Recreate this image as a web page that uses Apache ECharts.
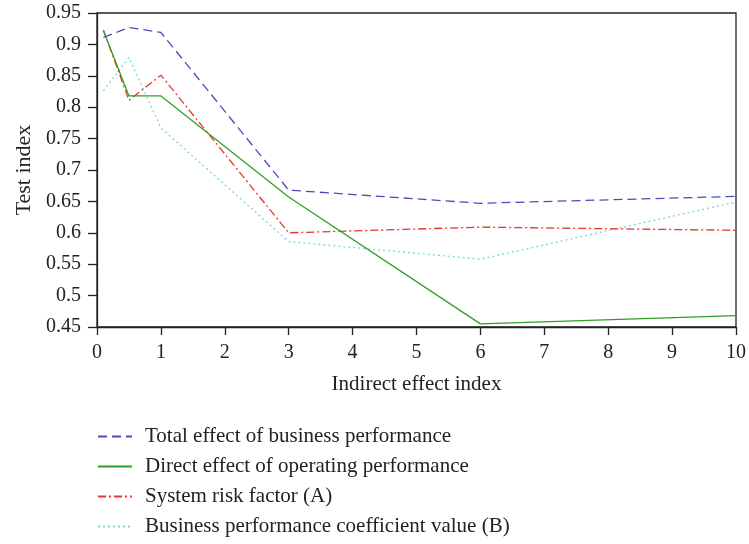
<!DOCTYPE html>
<html>
<head>
<meta charset="utf-8">
<script src="https://cdn.jsdelivr.net/npm/echarts@6/dist/echarts.min.js"></script>
<style>
html,body{margin:0;padding:0;background:#fff;}
#chart{width:749px;height:544px;}
</style>
</head>
<body>
<div id="chart"></div>
<script>
// Indirect effect index positions where each curve is sampled
const xValues = [0.1, 0.5, 1, 3, 6, 10];

const seriesNames = [
  'Total effect of business performance',
  'Direct effect of operating performance',
  'System risk factor (A)',
  'Business performance coefficient value (B)'
];

const totalEffect = [0.911, 0.927, 0.919, 0.668, 0.647, 0.658];
const directEffect = [0.922, 0.818, 0.818, 0.657, 0.455, 0.468];
const systemRisk = [0.923, 0.811, 0.851, 0.600, 0.609, 0.604];
const coefficientB = [0.826, 0.879, 0.767, 0.586, 0.558, 0.649];

const yTicks = { min: 0.45, max: 0.95, step: 0.05 };
const xTicks = { min: 0, max: 10, step: 1 };

const serif = '"Liberation Serif", "DejaVu Serif", serif';

const lineDefs = [
  { data: totalEffect, color: '#4b4bbd', type: [9, 5] },
  { data: directEffect, color: '#2f9f28', type: 'solid' },
  { data: systemRisk, color: '#e4372a', type: [8, 3, 2, 3] },
  { data: coefficientB, color: '#74d9dc', type: [2, 3] }
];

const series = lineDefs.map((d, i) => ({
  name: seriesNames[i],
  type: 'line',
  data: xValues.map((x, j) => [x, d.data[j]]),
  symbol: 'none',
  showSymbol: false,
  smooth: false,
  lineStyle: { color: d.color, width: 1.3, type: d.type },
  itemStyle: { color: d.color },
  z: 3 + (4 - i)
}));

const chart = echarts.init(document.getElementById('chart'));
chart.setOption({
  animation: false,
  backgroundColor: '#fff',
  grid: {
    left: 97, right: 8, top: 13, bottom: 217,
    show: true, borderColor: '#222', borderWidth: 1.3
  },
  xAxis: {
    type: 'value',
    min: xTicks.min, max: xTicks.max, interval: xTicks.step,
    name: 'Indirect effect index',
    nameLocation: 'middle',
    nameGap: 47,
    nameTextStyle: { fontFamily: serif, fontSize: 21, color: '#222' },
    axisLine: { lineStyle: { color: '#222', width: 1.3 } },
    axisTick: { inside: false, length: 8, lineStyle: { color: '#222', width: 1.3 } },
    axisLabel: { fontFamily: serif, fontSize: 20, color: '#222', margin: 16 },
    splitLine: { show: false }
  },
  yAxis: {
    type: 'value',
    min: yTicks.min, max: yTicks.max, interval: yTicks.step,
    name: 'Test index',
    nameLocation: 'middle',
    nameGap: 62,
    nameRotate: 90,
    nameTextStyle: { fontFamily: serif, fontSize: 22, color: '#222' },
    axisLine: { show: true, lineStyle: { color: '#222', width: 1.3 } },
    axisTick: { show: true, inside: false, length: 9, lineStyle: { color: '#222', width: 1.3 } },
    axisLabel: { fontFamily: serif, fontSize: 20, color: '#222', margin: 16 },
    splitLine: { show: false }
  },
  legend: {
    show: true,
    orient: 'vertical',
    left: 92,
    top: 421,
    itemWidth: 34,
    itemHeight: 14,
    itemGap: 9,
    itemStyle: { opacity: 0 },
    textStyle: { fontFamily: serif, fontSize: 21, color: '#222', padding: [0, 0, 0, 8] },
    data: seriesNames
  },
  series: series
});
</script>
</body>
</html>
